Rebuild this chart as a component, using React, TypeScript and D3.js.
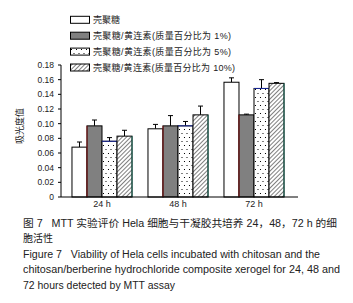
import React from "react";
import * as d3 from "d3";

const groups = ["24 h", "48 h", "72 h"];
const seriesNames = [
  "壳聚糖",
  "壳聚糖/黄连素(质量百分比为 1%)",
  "壳聚糖/黄连素(质量百分比为 5%)",
  "壳聚糖/黄连素(质量百分比为 10%)",
];
const chitosan = [0.068, 0.093, 0.1565];
const chitosanErr = [0.007, 0.006, 0.006];
const ber1 = [0.097, 0.097, 0.112];
const ber1Err = [0.008, 0.014, 0.001];
const ber5 = [0.076, 0.097, 0.148];
const ber5Err = [0.005, 0.006, 0.012];
const ber10 = [0.083, 0.112, 0.155];
const ber10Err = [0.008, 0.012, 0.001];
const yTicks = [0, 0.02, 0.04, 0.06, 0.08, 0.1, 0.12, 0.14, 0.16, 0.18];

const values = [chitosan, ber1, ber5, ber10];
const errors = [chitosanErr, ber1Err, ber5Err, ber10Err];
const fills = ["#ffffff", "#808080", "url(#dots)", "url(#hatch)"];
const edgeColors = ["none", "#8b1a1a", "#1a2a9b", "#1a6b5a"];
const legendLengths = [0, 138, 138, 142];

const latin = "'Liberation Sans', Arial, sans-serif";
const cjk = "'Liberation Sans', 'Noto Sans CJK SC', sans-serif";
const NB = "\u00A0";

export default function App() {
  const W = 353;
  const H = 303;
  const y = d3.scaleLinear().domain([0, 0.18]).range([197, 65]);
  const x0 = d3
    .scaleBand<string>()
    .domain(groups)
    .range([64, 292])
    .paddingInner(0.21)
    .paddingOuter(0.105);
  const x1 = d3
    .scaleBand<string>()
    .domain(seriesNames)
    .range([0, x0.bandwidth()]);
  const axisX = 61;
  const axisEnd = 298;

  return (
    <svg width={W} height={H} style={{ position: "absolute", left: 0, top: 0, background: "#fff" }}>
      <defs>
        <pattern id="dots" width="5" height="8" patternUnits="userSpaceOnUse">
          <rect width="5" height="8" fill="#fff" />
          <rect x="1" y="1" width="1" height="1" fill="#000" />
          <rect x="3.5" y="5" width="1" height="1" fill="#000" />
        </pattern>
        <pattern id="hatch" width="3" height="3" patternUnits="userSpaceOnUse" patternTransform="rotate(45)">
          <rect width="3" height="3" fill="#fff" />
          <line x1="0" y1="0" x2="0" y2="3" stroke="#000" strokeWidth="1" />
        </pattern>
      </defs>

      {/* Legend */}
      {seriesNames.map((name, i) => {
        const cy = 19.8 + i * 15.9;
        return (
          <g key={name}>
            <rect x={70.5} y={cy - 3.5} width={19} height={7} fill={fills[i]} stroke="#000" strokeWidth={1} />
            <text
              x={93}
              y={cy + 3.3}
              fontSize={9}
              fontFamily={cjk}
              fill="#222"
              textLength={legendLengths[i] || undefined}
              lengthAdjust="spacing"
            >
              {name}
            </text>
          </g>
        );
      })}

      {/* Bars */}
      {groups.map((g, gi) => (
        <g key={g} transform={`translate(${x0(g)},0)`}>
          {seriesNames.map((s, si) => {
            const v = values[si][gi];
            const e = errors[si][gi];
            const bx = x1(s)!;
            const bw = x1.bandwidth();
            const top = y(v);
            const cx = bx + bw / 2;
            return (
              <g key={s}>
                <line x1={cx} x2={cx} y1={top} y2={y(v + e)} stroke="#000" strokeWidth={1} />
                <line x1={cx - 2.5} x2={cx + 2.5} y1={y(v + e)} y2={y(v + e)} stroke="#000" strokeWidth={1} />
                <rect x={bx} y={top} width={bw} height={y(0) - top} fill={fills[si]} stroke="#000" strokeWidth={1} />
                {si === 1 && (
                  <line x1={bx} x2={bx} y1={top} y2={y(0)} stroke={edgeColors[si]} strokeWidth={1} />
                )}
                {si === 2 && (
                  <line x1={bx} x2={bx + bw} y1={top} y2={top} stroke={edgeColors[si]} strokeWidth={1} />
                )}
                {si === 3 && (
                  <line x1={bx + bw} x2={bx + bw} y1={top} y2={y(0)} stroke={edgeColors[si]} strokeWidth={1} />
                )}
              </g>
            );
          })}
          <text x={x0.bandwidth() / 2} y={207} textAnchor="middle" fontSize={9} fontFamily={latin} fill="#222">
            {g}
          </text>
        </g>
      ))}

      {/* Axes */}
      <line x1={axisX} x2={axisX} y1={y(0.18)} y2={y(0)} stroke="#000" strokeWidth={1} />
      <line x1={axisX} x2={axisEnd} y1={y(0)} y2={y(0)} stroke="#000" strokeWidth={1} />
      {yTicks.map((t) => (
        <g key={t}>
          <line x1={axisX - 3} x2={axisX} y1={y(t)} y2={y(t)} stroke="#000" strokeWidth={1} />
          <text x={54} y={y(t) + 3} textAnchor="end" fontSize={8.5} fontFamily={latin} fill="#222">
            {t === 0 ? "0" : d3.format(".2f")(t)}
          </text>
        </g>
      ))}
      <text
        transform={`translate(23,126) rotate(-90)`}
        textAnchor="middle"
        fontSize={9}
        fontFamily={cjk}
        fill="#222"
      >
        吸光度值
      </text>

      {/* Caption */}
      <g fill="#222" fontSize={10}>
        <text x={23} y={226.5} fontFamily={cjk} textLength={314} lengthAdjust="spacingAndGlyphs">
          {`图 7${NB}${NB}${NB}MTT 实验评价 Hela 细胞与干凝胶共培养 24，48，72 h 的细`}
        </text>
        <text x={23} y={242} fontFamily={cjk}>
          胞活性
        </text>
        <text x={23} y={257.5} fontFamily={latin} textLength={297} lengthAdjust="spacingAndGlyphs">
          {`Figure 7${NB}${NB}${NB}Viability of Hela cells incubated with chitosan and the`}
        </text>
        <text x={23} y={273} fontFamily={latin} textLength={317} lengthAdjust="spacingAndGlyphs">
          {"chitosan/berberine hydrochloride composite xerogel for 24, 48 and"}
        </text>
        <text x={23} y={288.5} fontFamily={latin} textLength={152} lengthAdjust="spacingAndGlyphs">
          {"72 hours detected by MTT assay"}
        </text>
      </g>
    </svg>
  );
}
